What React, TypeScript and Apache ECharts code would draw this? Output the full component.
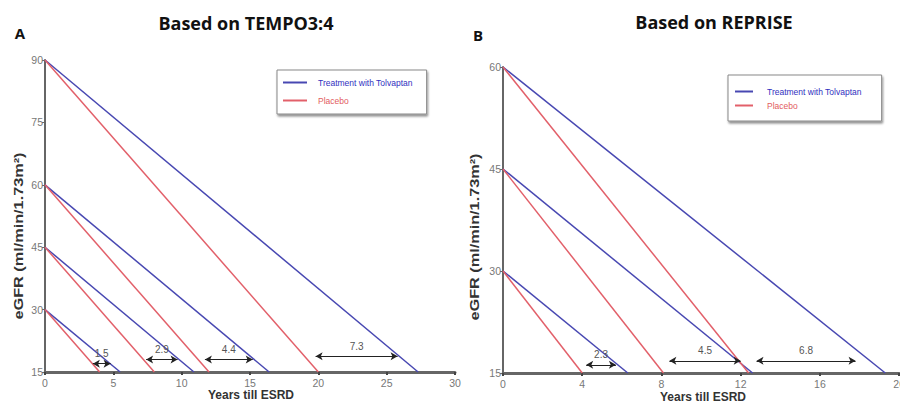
import React, { useEffect, useRef } from "react";
import * as echarts from "echarts";

// Panel A (TEMPO3:4): starting eGFR and years till ESRD (eGFR 15)
const tempoStarts = [90, 60, 45, 30];
const tempoTolvaptanEnd = [27.3, 16.4, 10.9, 5.5];
const tempoPlaceboEnd = [20, 12, 8, 4];
// arrows: y, from, to, label
const tempoArrowY = [17, 18, 18, 18.8];
const tempoArrowFrom = [3.5, 7.4, 11.7, 19.8];
const tempoArrowTo = [4.8, 9.7, 15.2, 25.8];
const tempoArrowLabels = ["1.5", "2.9", "4.4", "7.3"];

// Panel B (REPRISE)
const repriseStarts = [60, 45, 30];
const repriseTolvaptanEnd = [19.3, 12.6, 6.3];
const reprisePlaceboEnd = [12.4, 8.1, 4];
const repriseArrowY = [16.8, 16.8, 16.2];
const repriseArrowFrom = [12.8, 8.4, 4.2];
const repriseArrowTo = [17.8, 12.0, 5.7];
const repriseArrowLabels = ["6.8", "4.5", "2.3"];

const tempoXTicks = { min: 0, max: 30, interval: 5 };
const tempoYTicks = { min: 15, max: 90, interval: 15 };
const repriseXTicks = { min: 0, max: 20, interval: 4 };
const repriseYTicks = { min: 15, max: 60, interval: 15 };

const BLUE = "#4848b2";
const RED = "#e2606a";
const TOLV = "Treatment with Tolvaptan";
const PLAC = "Placebo";
const Y_NAME = "eGFR (ml/min/1.73m²)";
const X_NAME = "Years till ESRD";

function pairSeries(
  starts: number[],
  ends: number[],
  name: string,
  color: string,
  idx: number
) {
  return starts.map((s, i) => ({
    type: "line",
    name,
    xAxisIndex: idx,
    yAxisIndex: idx,
    data: [
      [0, s],
      [ends[i], 15],
    ],
    showSymbol: false,
    symbol: "none",
    lineStyle: { color, width: 1.5 },
    itemStyle: { color },
    z: 3,
  }));
}

function arrowSeries(
  ys: number[],
  from: number[],
  to: number[],
  labels: string[],
  idx: number
) {
  return {
    type: "line",
    name: "arrows" + idx,
    xAxisIndex: idx,
    yAxisIndex: idx,
    data: [],
    markLine: {
      silent: true,
      symbol: ["arrow", "arrow"],
      symbolSize: [6, 7],
      lineStyle: { color: "#222", width: 1, type: "solid" },
      label: {
        show: true,
        position: "middle",
        color: "#555",
        fontSize: 10,
        fontFamily: "Liberation Sans",
        distance: 5,
      },
      data: ys.map((y, i) => [
        { coord: [from[i], y], label: { formatter: labels[i] } },
        { coord: [to[i], y] },
      ]),
    },
  };
}

const labelStyle = {
  color: "#777",
  fontSize: 10.5,
  fontFamily: "Liberation Sans",
};

function yNameText(x: number, y: number) {
  return {
    type: "text",
    x,
    y,
    rotation: Math.PI / 2,
    scaleX: 1.25,
    style: {
      text: Y_NAME,
      textAlign: "center",
      textVerticalAlign: "middle",
      font: "bold 13px 'Liberation Sans'",
      fill: "#333",
    },
  };
}

function headText(x: number, y: number, text: string, size: number) {
  return {
    type: "text",
    x,
    y,
    style: {
      text,
      textAlign: "center",
      textVerticalAlign: "middle",
      font: `bold ${size}px 'Open Sans'`,
      fill: "#111",
    },
  };
}

function xNameText(x: number, y: number) {
  return {
    type: "text",
    x,
    y,
    style: {
      text: X_NAME,
      textAlign: "center",
      textVerticalAlign: "middle",
      font: "bold 12px 'Liberation Sans'",
      fill: "#333",
    },
  };
}

export default function App() {
  const ref = useRef<HTMLDivElement>(null);
  useEffect(() => {
    if (!ref.current) return;
    const chart = echarts.init(ref.current, undefined, { renderer: "svg" });
    const xAxisBase = (t: any, idx: number) => ({
      type: "value",
      gridIndex: idx,
      min: t.min,
      max: t.max,
      interval: t.interval,
      splitLine: { show: false },
      axisLine: { show: true, lineStyle: { color: "#666", width: 3 } },
      axisTick: { show: true, length: 3, lineStyle: { color: "#444", width: 2 } },
      axisLabel: { ...labelStyle, margin: 5 },
    });
    const yAxisBase = (t: any, idx: number) => ({
      type: "value",
      gridIndex: idx,
      min: t.min,
      max: t.max,
      interval: t.interval,
      splitLine: { show: false },
      axisLine: { show: true, lineStyle: { color: "#666", width: 2 } },
      axisTick: { show: true, length: 3, lineStyle: { color: "#666" } },
      axisLabel: { ...labelStyle, margin: 2 },
    });
    const legendBase = {
      orient: "vertical",
      backgroundColor: "#fff",
      borderColor: "#888",
      borderWidth: 1,
      shadowColor: "rgba(0,0,0,0.45)",
      shadowBlur: 2,
      shadowOffsetX: 1,
      shadowOffsetY: 2,
      icon: "rect",
      itemHeight: 2,
      selectedMode: false,
      textStyle: { fontSize: 8.5, fontFamily: "Liberation Sans" },
    };
    chart.setOption({
      animation: false,
      backgroundColor: "#fff",
      grid: [
        { left: 45, right: 453, top: 60, bottom: 38 },
        { left: 503, right: 8, top: 67, bottom: 37 },
      ],
      xAxis: [xAxisBase(tempoXTicks, 0), xAxisBase(repriseXTicks, 1)],
      yAxis: [yAxisBase(tempoYTicks, 0), yAxisBase(repriseYTicks, 1)],
      legend: [
        {
          ...legendBase,
          left: 277,
          top: 70,
          itemWidth: 24,
          itemGap: 9,
          padding: [8, 14, 9, 6],
          data: [
            { name: TOLV, textStyle: { color: "#3030c0", padding: [0, 0, 0, 6] } },
            { name: PLAC, textStyle: { color: "#e25c60", padding: [0, 0, 0, 6] } },
          ],
        },
        {
          ...legendBase,
          left: 728,
          top: 75,
          itemWidth: 18,
          itemGap: 5,
          padding: [12, 20, 11, 7],
          data: [
            { name: TOLV, textStyle: { color: "#3030c0", padding: [0, 0, 0, 9] } },
            { name: PLAC, textStyle: { color: "#e25c60", padding: [0, 0, 0, 9] } },
          ],
        },
      ],
      graphic: [
        headText(246, 23, "Based on TEMPO3:4", 18),
        headText(714, 22, "Based on REPRISE", 18),
        headText(20, 33, "A", 15),
        headText(478, 35, "B", 15),
        yNameText(19, 236),
        yNameText(475, 237),
        xNameText(251, 395),
        xNameText(703, 397),
      ],
      series: [
        ...pairSeries(tempoStarts, tempoTolvaptanEnd, TOLV, BLUE, 0),
        ...pairSeries(tempoStarts, tempoPlaceboEnd, PLAC, RED, 0),
        ...pairSeries(repriseStarts, repriseTolvaptanEnd, TOLV, BLUE, 1),
        ...pairSeries(repriseStarts, reprisePlaceboEnd, PLAC, RED, 1),
        arrowSeries(tempoArrowY, tempoArrowFrom, tempoArrowTo, tempoArrowLabels, 0),
        arrowSeries(repriseArrowY, repriseArrowFrom, repriseArrowTo, repriseArrowLabels, 1),
      ],
    });
    return () => chart.dispose();
  }, []);
  return <div ref={ref} style={{ width: 908, height: 410, margin: -8 }} />;
}
